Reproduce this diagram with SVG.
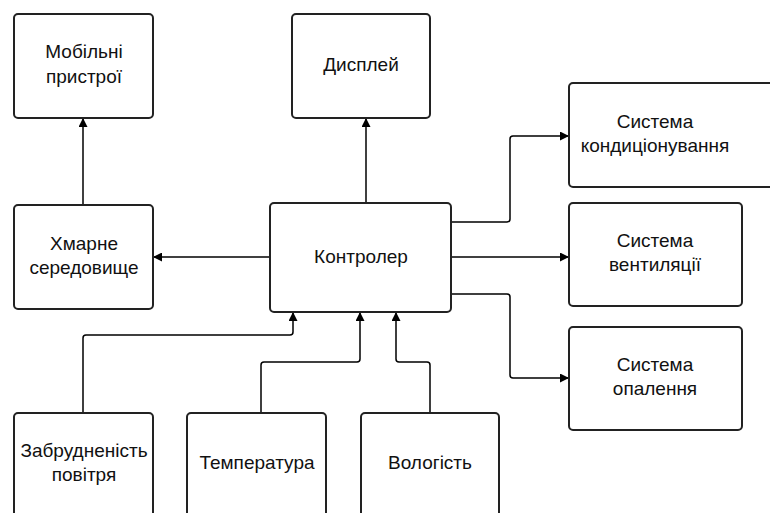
<svg xmlns="http://www.w3.org/2000/svg" width="770" height="513" viewBox="0 0 770 513">
<defs>
<marker id="ah" viewBox="0 0 10 10" refX="10" refY="5" markerWidth="10" markerHeight="9" markerUnits="userSpaceOnUse" orient="auto">
<path d="M0,0 L10,5 L0,10 Z" fill="#000"/>
</marker>
<style>
.box{fill:#fff;stroke:#222;stroke-width:2}
.lbl{font-family:"Liberation Sans",Arial,sans-serif;font-size:19px;fill:#111;text-anchor:middle}
.con{fill:none;stroke:#000;stroke-width:1.5;marker-end:url(#ah)}
</style>
</defs>
<rect width="770" height="513" fill="#fff"/>
<g id="connectors">
<path class="con" d="M83,205 V118"/>
<path class="con" d="M366,203 V118"/>
<path class="con" d="M270,257 H153"/>
<path class="con" d="M451,222 H507 Q510,222 510,219 V139 Q510,136 513,136 H569"/>
<path class="con" d="M451,257 H569"/>
<path class="con" d="M451,294 H507 Q510,294 510,297 V375 Q510,378 513,378 H569"/>
<path class="con" d="M83,413 V338 Q83,335 86,335 H290 Q293,335 293,332 V312"/>
<path class="con" d="M261,413 V365 Q261,362 264,362 H357 Q360,362 360,359 V312"/>
<path class="con" d="M430,413 V365 Q430,362 427,362 H399 Q396,362 396,359 V312"/>
</g>
<g id="mobile">
<rect class="box" x="14" y="14" width="139" height="104" rx="4"/>
<text class="lbl" x="84" y="58">Мобільні</text>
<text class="lbl" x="84" y="83">пристрої</text>
</g>
<g id="display">
<rect class="box" x="292" y="14" width="138" height="104" rx="4"/>
<text class="lbl" x="361" y="71">Дисплей</text>
</g>
<g id="conditioning">
<rect class="box" x="569" y="83" width="230" height="104" rx="4"/>
<text class="lbl" x="655" y="128">Система</text>
<text class="lbl" x="655" y="152">кондиціонування</text>
</g>
<g id="cloud">
<rect class="box" x="14" y="205" width="139" height="104" rx="4"/>
<text class="lbl" x="84" y="250">Хмарне</text>
<text class="lbl" x="84" y="274">середовище</text>
</g>
<g id="controller">
<rect class="box" x="270" y="203" width="181" height="109" rx="4"/>
<text class="lbl" x="361" y="263">Контролер</text>
</g>
<g id="ventilation">
<rect class="box" x="569" y="203" width="173" height="103" rx="4"/>
<text class="lbl" x="655" y="247">Система</text>
<text class="lbl" x="655" y="271">вентиляції</text>
</g>
<g id="heating">
<rect class="box" x="569" y="327" width="173" height="103" rx="4"/>
<text class="lbl" x="655" y="371">Система</text>
<text class="lbl" x="655" y="395">опалення</text>
</g>
<g id="pollution">
<rect class="box" x="14" y="413" width="139" height="120" rx="4"/>
<text class="lbl" x="84" y="457">Забрудненість</text>
<text class="lbl" x="84" y="481">повітря</text>
</g>
<g id="temperature">
<rect class="box" x="187" y="413" width="139" height="120" rx="4"/>
<text class="lbl" x="257" y="469">Температура</text>
</g>
<g id="humidity">
<rect class="box" x="361" y="413" width="138" height="120" rx="4"/>
<text class="lbl" x="430" y="469">Вологість</text>
</g>
</svg>
